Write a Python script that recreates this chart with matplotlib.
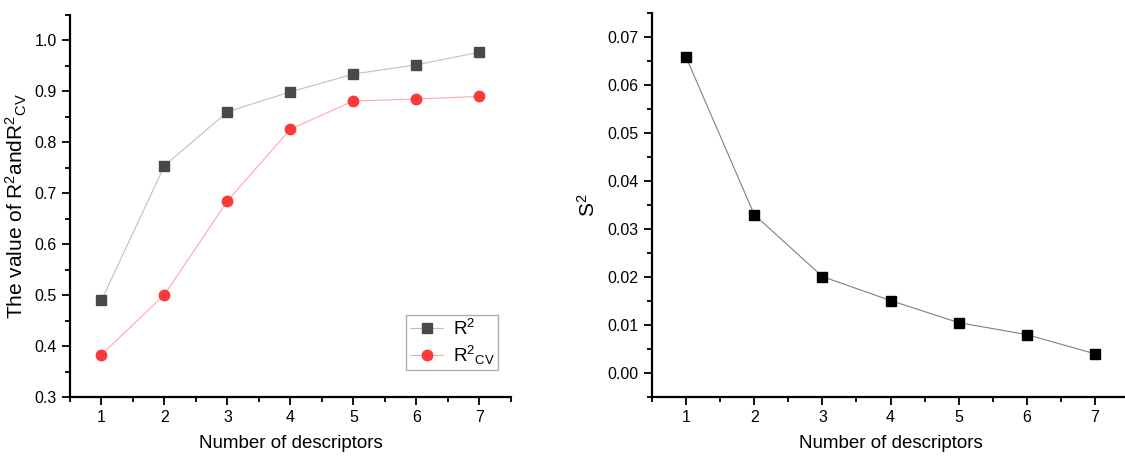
import matplotlib
matplotlib.use("Agg")
import matplotlib.pyplot as plt
from matplotlib.ticker import MultipleLocator

plt.rcParams['font.family'] = ['Liberation Sans', 'DejaVu Sans']
plt.rcParams['mathtext.fontset'] = 'custom'
plt.rcParams['mathtext.rm'] = 'Liberation Sans'
plt.rcParams['mathtext.it'] = 'Liberation Sans'
plt.rcParams['mathtext.default'] = 'regular'

# data
n_desc = [1, 2, 3, 4, 5, 6, 7]
r2 = [0.490, 0.754, 0.860, 0.899, 0.934, 0.952, 0.977]
r2_cv = [0.383, 0.501, 0.685, 0.826, 0.881, 0.885, 0.890]
s2 = [0.0658, 0.0330, 0.0201, 0.0151, 0.0105, 0.0080, 0.0040]

fig = plt.figure(figsize=(11.25, 4.57), dpi=100)
ax1 = fig.add_axes([0.0622, 0.1313, 0.392, 0.836])
ax2 = fig.add_axes([0.5796, 0.1313, 0.424, 0.840])


def style_axes(ax):
    for s in ['top', 'right']:
        ax.spines[s].set_visible(False)
    for s in ['left', 'bottom']:
        ax.spines[s].set_linewidth(1.6)
    ax.tick_params(which='major', direction='out', length=6, width=1.3, labelsize=11.5)
    ax.tick_params(which='minor', direction='out', length=3.5, width=1.3)
    ax.set_xlim(0.5, 7.5)
    ax.xaxis.set_major_locator(MultipleLocator(1))
    ax.xaxis.set_minor_locator(MultipleLocator(0.5))
    ax.set_xlabel("Number of descriptors", fontsize=13.5, labelpad=7)


# left panel
ax1.plot(n_desc, r2, color='#c0c0c0', lw=0.8, marker='s', ms=7,
         mfc='#494949', mec='#494949', label='R$^2$')
ax1.plot(n_desc, r2_cv, color='#ffa8a8', lw=0.8, marker='o', ms=7.5,
         mfc='#fa3a3a', mec='#fa3a3a', label='R$^2$$_{CV}$')
style_axes(ax1)
ax1.set_ylim(0.3, 1.05)
ax1.yaxis.set_major_locator(MultipleLocator(0.1))
ax1.yaxis.set_minor_locator(MultipleLocator(0.05))
ax1.set_ylabel("The value of R$^2$andR$^2$$_{CV}$", fontsize=15, labelpad=4)
leg = ax1.legend(loc='lower right', bbox_to_anchor=(0.98, 0.06), fontsize=13.5,
                 fancybox=False, edgecolor='#999999', handlelength=1.8,
                 borderpad=0.2, labelspacing=0.25, handletextpad=0.5,
                 borderaxespad=0.2)
leg.get_frame().set_linewidth(1)

# right panel
ax2.plot(n_desc, s2, color='#808080', lw=0.8, marker='s', ms=7,
         mfc='black', mec='black')
style_axes(ax2)
ax2.set_ylim(-0.005, 0.075)
ax2.yaxis.set_major_locator(MultipleLocator(0.01))
ax2.yaxis.set_minor_locator(MultipleLocator(0.005))
ax2.yaxis.set_major_formatter(plt.FormatStrFormatter('%.2f'))
ax2.set_ylabel("S$^2$", fontsize=15, labelpad=6)

fig.savefig("out.png", dpi=100)
